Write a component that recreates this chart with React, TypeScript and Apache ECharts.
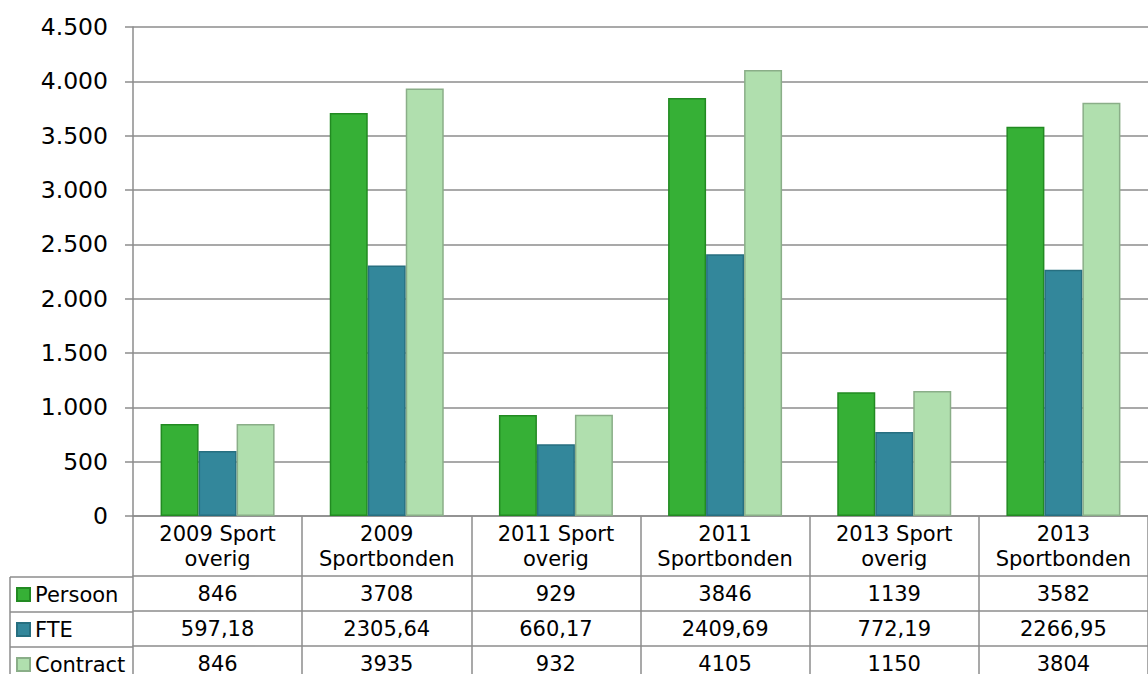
import React, { useEffect, useRef } from "react";
import * as echarts from "echarts";

const categories = [
  "2009 Sport\noverig",
  "2009\nSportbonden",
  "2011 Sport\noverig",
  "2011\nSportbonden",
  "2013 Sport\noverig",
  "2013\nSportbonden",
];
const seriesNames = ["Persoon", "FTE", "Contract"];
const persoon = [846, 3708, 929, 3846, 1139, 3582];
const fte = [597.18, 2305.64, 660.17, 2409.69, 772.19, 2266.95];
const contract = [846, 3935, 932, 4105, 1150, 3804];
const yTicks = { min: 0, max: 4500, interval: 500 };

const FONT = "DejaVu Sans, Verdana, sans-serif";
const GRID = "#8c8c8c";
const fills = ["#36b036", "#33879b", "#b0dfae"];
const borders = ["#228a22", "#276f80", "#8aae88"];

const fmtThousands = (v: number) =>
  String(v).replace(/\B(?=(\d{3})+(?!\d))/g, ".");
const fmtCell = (v: number) => String(v).replace(".", ",");

export default function App() {
  const ref = useRef<HTMLDivElement>(null);
  useEffect(() => {
    if (!ref.current) return;
    const chart = echarts.init(ref.current, undefined, { renderer: "svg" });
    const headerH = 60;
    const rowH = 35;
    const tableFont = 21;
    const lineStyle = { color: GRID, width: 1.5 };
    const rows = [persoon, fte, contract];
    const tableAxes = rows.map((r, i) => ({
      type: "category",
      data: r.map(fmtCell),
      position: "bottom",
      offset: headerH + i * rowH,
      axisLine: { show: true, lineStyle },
      axisTick: { show: true, length: rowH, lineStyle },
      axisLabel: {
        interval: 0,
        margin: rowH / 2,
        verticalAlign: "middle",
        fontSize: tableFont,
        color: "#000",
        fontFamily: FONT,
      },
      splitLine: { show: false },
    }));
    const data = [persoon, fte, contract];
    chart.setOption({
      animation: false,
      backgroundColor: "#fff",
      grid: { left: 133, top: 27, height: 490, width: 1029, containLabel: false },
      legend: seriesNames.map((name, i) => ({
        orient: "vertical",
        left: 16,
        top: 584 + i * rowH,
        padding: 0,
        itemWidth: 13,
        itemHeight: 13,
        itemGap: 0,
        itemTextGap: 5,
        icon: "rect",
        data: [name],
        textStyle: { fontSize: tableFont, lineHeight: 21, color: "#000", fontFamily: FONT },
      })),
      graphic: [
        { type: "line", shape: { x1: 10, y1: 577, x2: 133, y2: 577 }, style: { stroke: GRID, lineWidth: 1.5 } },
        { type: "line", shape: { x1: 10, y1: 612, x2: 133, y2: 612 }, style: { stroke: GRID, lineWidth: 1.5 } },
        { type: "line", shape: { x1: 10, y1: 647, x2: 133, y2: 647 }, style: { stroke: GRID, lineWidth: 1.5 } },
        { type: "line", shape: { x1: 10, y1: 577, x2: 10, y2: 674 }, style: { stroke: GRID, lineWidth: 1.5 } },
      ],
      xAxis: [
        {
          type: "category",
          data: categories,
          position: "bottom",
          axisLine: { show: true, lineStyle },
          axisTick: { show: true, length: headerH, lineStyle },
          axisLabel: {
            interval: 0,
            margin: headerH / 2,
            verticalAlign: "middle",
            lineHeight: 25,
            fontSize: tableFont,
            color: "#000",
            fontFamily: FONT,
          },
          splitLine: { show: false },
        },
        ...tableAxes,
      ],
      yAxis: {
        type: "value",
        min: yTicks.min,
        max: yTicks.max,
        interval: yTicks.interval,
        axisLine: { show: true, lineStyle },
        axisTick: { show: true, length: 8, lineStyle },
        splitLine: { show: true, lineStyle },
        axisLabel: {
          margin: 25,
          fontSize: 23.5,
          color: "#000",
          fontFamily: FONT,
          formatter: (v: number) => fmtThousands(v),
        },
      },
      series: seriesNames.map((name, i) => ({
        name,
        type: "bar",
        xAxisIndex: 0,
        data: data[i],
        barWidth: 38,
        barGap: "0%",
        itemStyle: { color: fills[i], borderColor: borders[i], borderWidth: 1.5 },
      })),
    });
    return () => chart.dispose();
  }, []);
  return (
    <div
      ref={ref}
      style={{ position: "fixed", left: 0, top: 0, width: 1148, height: 674 }}
    />
  );
}
